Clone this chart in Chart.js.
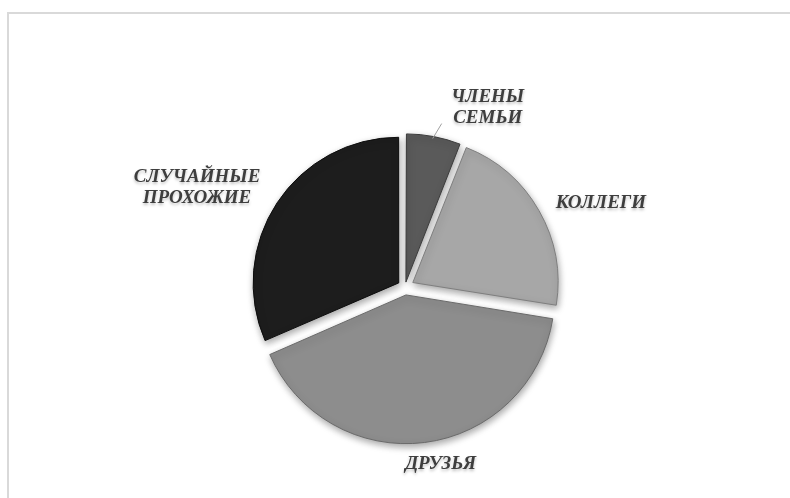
<!DOCTYPE html>
<html lang="ru">
<head>
<meta charset="utf-8">
<title>Круговая диаграмма</title>
<script src="https://cdn.jsdelivr.net/npm/chart.js@4.4.1/dist/chart.umd.min.js"></script>
<style>
  html, body { margin: 0; padding: 0; background: #fff; }
  .frame {
    position: absolute; left: 7px; top: 12px;
    width: 800px; height: 500px;
    border: 2px solid #d9d9d9; box-sizing: border-box;
  }
  .chart-wrapper { position: absolute; left: 0; top: 0; width: 790px; height: 498px; }
</style>
</head>
<body>
<div class="frame"></div>
<div class="chart-wrapper"><canvas id="pieChart"></canvas></div>
<script>
/*  Данные ------------------------------------------------------------------- */
const categories = ['ЧЛЕНЫ СЕМЬИ', 'КОЛЛЕГИ', 'ДРУЗЬЯ', 'СЛУЧАЙНЫЕ ПРОХОЖИЕ'];
const shares = [6, 21.5, 41, 31.5];   // доли, %
const labelLines = [['ЧЛЕНЫ', 'СЕМЬИ'], ['КОЛЛЕГИ'], ['ДРУЗЬЯ'], ['СЛУЧАЙНЫЕ', 'ПРОХОЖИЕ']];

/*  Оформление --------------------------------------------------------------- */
const sliceColors = ['#5a5a5a', '#a7a7a7', '#8d8d8d', '#1d1d1d'];
const sliceBorders = ['#3c3c3c', '#7e7e7e', '#6a6a6a', '#0c0c0c'];
const sliceOffsets = [20, 36, 32, 30];                          // «выдвижение» секторов
const labelShift = [[54, -29], [62, -7], [16, 22], [-80, -15]]; // от середины внешней дуги
const leaderLine = [[-1, 2], [8, -13]];                          // выноска для 1-го сектора

/*  Подписи и тень ----------------------------------------------------------- */
const pieDecor = {
  id: 'pieDecor',
  beforeDatasetsDraw(chart) {
    const { ctx } = chart;
    ctx.save();
    ctx.shadowColor = 'rgba(0,0,0,0.35)';
    ctx.shadowBlur = 7;
    ctx.shadowOffsetX = 1;
    ctx.shadowOffsetY = 3;
  },
  afterDatasetsDraw(chart) {
    const { ctx } = chart;
    ctx.restore();

    const arcs = chart.getDatasetMeta(0).data;
    ctx.save();
    ctx.font = 'italic bold 19px "Liberation Serif", "Times New Roman", serif';
    ctx.textAlign = 'center';
    ctx.textBaseline = 'middle';

    arcs.forEach((arc, i) => {
      const mid = (arc.startAngle + arc.endAngle) / 2;
      const off = sliceOffsets[i] / 4;
      const fix = 1 - Math.sin(Math.min(Math.PI, arc.endAngle - arc.startAngle));
      const dist = arc.outerRadius + off + off * fix;
      const px = arc.x + Math.cos(mid) * dist;
      const py = arc.y + Math.sin(mid) * dist;

      if (i === 0) {
        ctx.strokeStyle = '#a0a0a0';
        ctx.lineWidth = 1;
        ctx.beginPath();
        ctx.moveTo(px + leaderLine[0][0], py + leaderLine[0][1]);
        ctx.lineTo(px + leaderLine[1][0], py + leaderLine[1][1]);
        ctx.stroke();
      }

      const lines = labelLines[i];
      const lh = 21;
      const cx = px + labelShift[i][0];
      const cy = py + labelShift[i][1] - (lines.length - 1) * lh / 2;
      lines.forEach((t, k) => {
        ctx.shadowColor = 'rgba(0,0,0,0.25)';
        ctx.shadowBlur = 3;
        ctx.shadowOffsetY = 2;
        ctx.fillStyle = '#3e3e3e';
        ctx.fillText(t, cx, cy + k * lh);
      });
    });
    ctx.restore();
  }
};

/*  Диаграмма ---------------------------------------------------------------- */
new Chart(document.getElementById('pieChart'), {
  type: 'pie',
  data: {
    labels: categories,
    datasets: [{
      data: shares,
      backgroundColor: sliceColors,
      borderColor: sliceBorders,
      borderWidth: 1,
      offset: sliceOffsets,
    }],
  },
  options: {
    responsive: true,
    maintainAspectRatio: false,
    animation: false,
    radius: 145,
    layout: { padding: { left: 20, right: 0, top: 76, bottom: 0 } },
    plugins: {
      legend: { display: false },
      tooltip: { enabled: false },
    },
  },
  plugins: [pieDecor],
});
</script>
</body>
</html>
